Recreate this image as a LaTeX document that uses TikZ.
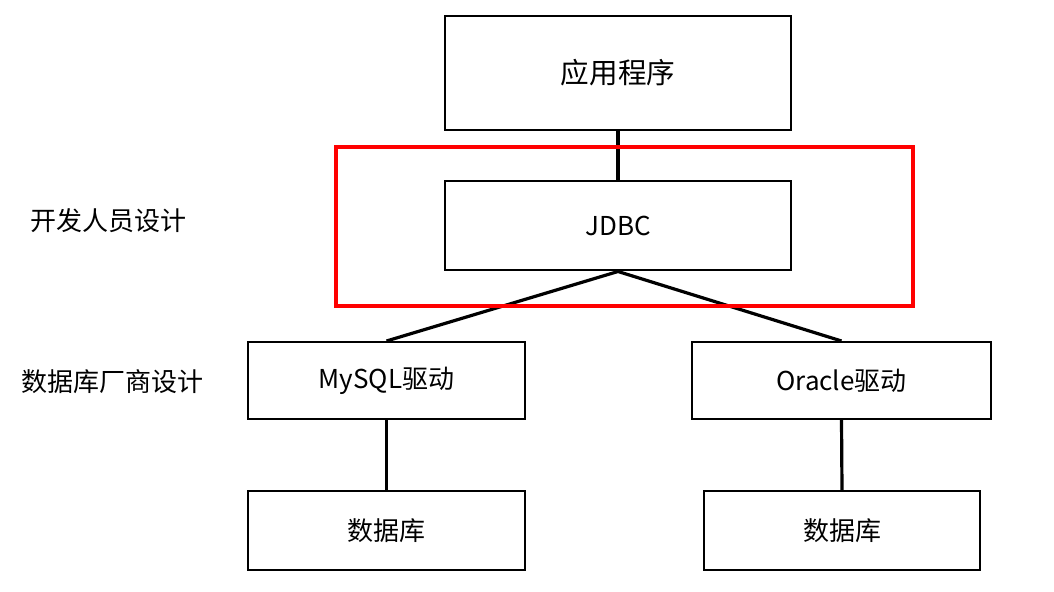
\documentclass[tikz,border=0pt]{standalone}
\usepackage{fontspec}
\setmainfont{Noto Sans CJK SC}
\begin{document}
\begin{tikzpicture}[x=0.5pt,y=-0.5pt,
	boite/.style={draw,line width=1pt,inner sep=0pt,font=\fontsize{13}{15}\selectfont},
	lien/.style={line width=1.6pt},
	etiquette/.style={inner sep=0pt,font=\fontsize{13}{15}\selectfont}]
		\useasboundingbox (0,0) rectangle (1054,592);
		% Définition des noeuds
		\node[boite,minimum width=173pt,minimum height=57pt,font=\fontsize{14.3}{16}\selectfont] (app) at (618,73) {应用程序};
		\node[boite,minimum width=173pt,minimum height=44.5pt] (jdbc) at (618,226) {JDBC};
		\node[boite,minimum width=138.5pt,minimum height=38.5pt] (mysql) at (386.5,380.5) {MySQL驱动};
		\node[boite,minimum width=149.5pt,minimum height=38.5pt] (oracle) at (841.5,380.5) {Oracle驱动};
		\node[boite,minimum width=138.5pt,minimum height=39.5pt] (db1) at (386.5,530.5) {数据库};
		\node[boite,minimum width=138pt,minimum height=39.5pt] (db2) at (842,530.5) {数据库};
		
		% Définition des étiquettes
		\node[etiquette] (dev) at (108,221) {开发人员设计};
		\node[etiquette] (vendor) at (112,382) {数据库厂商设计};
		
		% Définition des arêtes
		\draw[lien] (app) -- (jdbc);
		\draw[lien] (jdbc.south) -- (mysql.north);
		\draw[lien] (jdbc.south) -- (oracle.north);
		\draw[lien] (mysql) -- (db1);
		\draw[lien] (oracle.south) -- (db2.north);
		
		% Cadre rouge
		\draw[red,line width=1.6pt] (336,147) rectangle (913,306);
	\end{tikzpicture}
\end{document}
